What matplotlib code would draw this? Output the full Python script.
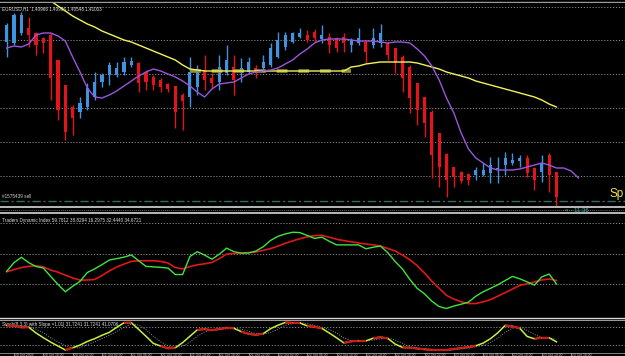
import matplotlib
matplotlib.use("Agg")
import matplotlib.pyplot as plt
import numpy as np

# ---------------- data ----------------
# EURUSD H1 candles (open, high, low, close)
opens = [1.4265,1.4264,1.4274,1.4279,1.4274,1.4269,1.4272,1.4247,1.4222,1.4200,
         1.4195,1.4200,1.4210,1.4225,1.4232,1.4232,1.4235,1.4242,1.4244,1.4235,
         1.4230,1.4227,1.4223,1.4221,1.4212,1.4210,1.4220,1.4237,1.4229,1.4225,
         1.4234,1.4240,1.4234,1.4235,1.4239,1.4239,1.4242,1.4250,1.4260,1.4265,
         1.4270,1.4272,1.4275,1.4268,1.4270,1.4269,1.4270,1.4262,1.4264,1.4265,
         1.4262,1.4264,1.4264,1.4259,1.4250,1.4240,1.4224,1.4210,1.4195,1.4174,
         1.4153,1.4140,1.4135,1.4133,1.4132,1.4132,1.4134,1.4138,1.4142,1.4144,
         1.4146,1.4149,1.4139,1.4135,1.4152,1.4135]
highs = [1.4284,1.4294,1.4295,1.4290,1.4275,1.4270,1.4274,1.4247,1.4222,1.4202,
         1.4210,1.4224,1.4235,1.4234,1.4245,1.4245,1.4250,1.4250,1.4245,1.4237,
         1.4232,1.4229,1.4224,1.4221,1.4214,1.4250,1.4242,1.4252,1.4234,1.4252,
         1.4262,1.4252,1.4249,1.4250,1.4242,1.4252,1.4264,1.4275,1.4275,1.4275,
         1.4279,1.4277,1.4278,1.4282,1.4274,1.4270,1.4274,1.4269,1.4279,1.4267,
         1.4279,1.4283,1.4265,1.4259,1.4252,1.4242,1.4224,1.4210,1.4197,1.4174,
         1.4154,1.4140,1.4136,1.4134,1.4140,1.4144,1.4150,1.4150,1.4155,1.4154,
         1.4152,1.4152,1.4140,1.4152,1.4154,1.4135]
lows = [1.4250,1.4262,1.4272,1.4260,1.4252,1.4254,1.4207,1.4187,1.4167,1.4172,
        1.4189,1.4197,1.4207,1.4220,1.4222,1.4230,1.4232,1.4240,1.4215,1.4217,
        1.4217,1.4215,1.4215,1.4179,1.4177,1.4200,1.4212,1.4217,1.4219,1.4217,
        1.4232,1.4212,1.4225,1.4234,1.4229,1.4235,1.4240,1.4249,1.4257,1.4264,
        1.4269,1.4265,1.4265,1.4264,1.4254,1.4255,1.4255,1.4255,1.4262,1.4244,
        1.4259,1.4260,1.4247,1.4234,1.4215,1.4194,1.4182,1.4170,1.4129,1.4120,
        1.4110,1.4120,1.4124,1.4122,1.4127,1.4131,1.4124,1.4124,1.4132,1.4142,
        1.4140,1.4130,1.4117,1.4125,1.4115,1.4100]
closes = [1.4282,1.4292,1.4292,1.4272,1.4262,1.4264,1.4229,1.4197,1.4175,1.4189,
          1.4204,1.4219,1.4225,1.4232,1.4242,1.4239,1.4245,1.4246,1.4224,1.4225,
          1.4222,1.4220,1.4218,1.4195,1.4206,1.4235,1.4237,1.4227,1.4224,1.4240,
          1.4247,1.4227,1.4239,1.4245,1.4234,1.4245,1.4259,1.4267,1.4272,1.4274,
          1.4274,1.4267,1.4269,1.4272,1.4262,1.4259,1.4264,1.4267,1.4269,1.4255,
          1.4269,1.4274,1.4252,1.4244,1.4229,1.4209,1.4197,1.4184,1.4152,1.4140,
          1.4127,1.4130,1.4126,1.4127,1.4137,1.4137,1.4142,1.4139,1.4149,1.4147,
          1.4149,1.4134,1.4127,1.4144,1.4132,1.4110]

# fast moving average (shifted forward by 3 bars)
ma_fast = [1.4259,1.4261,1.4260,1.4263,1.4272,1.4274,1.4274,1.4271,1.4266,1.4250,
           1.4235,1.4219,1.4210,1.4209,1.4212,1.4216,1.4221,1.4226,1.4231,1.4235,
           1.4238,1.4236,1.4233,1.4230,1.4226,1.4221,1.4215,1.4210,1.4218,1.4223,
           1.4224,1.4225,1.4229,1.4233,1.4235,1.4236,1.4237,1.4239,1.4243,1.4247,
           1.4253,1.4258,1.4264,1.4267,1.4268,1.4268,1.4268,1.4267,1.4266,1.4266,
           1.4266,1.4265,1.4264,1.4265,1.4265,1.4264,1.4258,1.4251,1.4241,1.4227,
           1.4209,1.4194,1.4174,1.4158,1.4149,1.4144,1.4139,1.4137,1.4137,1.4137,
           1.4138,1.4140,1.4142,1.4144,1.4142,1.4139,1.4139,1.4136,1.4129]
# slow moving average (starts at bar 5)
ma_slow_start = 5
ma_slow = [1.4309,1.4306,1.4301,1.4296,1.4291,1.4287,1.4283,1.4280,1.4276,1.4273,
           1.4270,1.4267,1.4265,1.4262,1.4259,1.4256,1.4253,1.4250,1.4247,1.4242,
           1.4238,1.4237,1.4236,1.4236,1.4236,1.4236,1.4236,1.4236,1.4236,1.4236,
           1.4236,1.4236,1.4236,1.4236,1.4236,1.4236,1.4236,1.4236,1.4236,1.4236,
           1.4236,1.4236,1.4240,1.4241,1.4243,1.4244,1.4245,1.4245,1.4245,1.4245,
           1.4245,1.4244,1.4242,1.4240,1.4238,1.4235,1.4233,1.4231,1.4229,1.4226,
           1.4224,1.4222,1.4220,1.4218,1.4216,1.4214,1.4212,1.4210,1.4207,1.4203,
           1.4200]
level_line_price = 1.4236
level_line_bars = (25, 47)
order_price = 1.4106
price_grid = [1.4300, 1.4267, 1.4233, 1.4199, 1.4165, 1.4131]

# Traders Dynamic Index
tdi_green = [39.7,44.8,47.9,44.8,42.5,41.6,36.7,32.0,27.7,30.9,
             33.8,39.0,41.1,43.6,46.3,47.1,48.0,49.3,45.9,42.6,
             42.3,42.0,41.6,37.8,37.8,48.4,51.2,49.2,46.8,49.7,
             53.3,51.2,50.4,50.4,51.6,54.1,57.8,60.2,61.6,62.6,
             62.4,60.7,59.0,59.7,57.3,55.2,55.2,55.2,55.2,52.9,
             53.8,54.5,50.6,45.4,41.0,34.9,29.7,26.5,22.2,19.0,
             17.9,19.3,20.4,21.6,25.1,27.7,29.7,31.8,34.3,36.7,
             35.3,33.5,31.6,36.4,38.1,32.3]
tdi_red = [39.4,40.7,41.9,42.6,42.9,42.3,40.4,39.2,37.4,35.8,
           34.5,34.6,34.9,37.2,39.9,42.2,43.9,45.5,45.9,45.9,
           45.9,45.5,44.6,41.9,41.1,42.5,43.5,44.1,44.9,47.1,
           49.8,50.1,50.3,50.7,51.0,52.0,53.0,54.5,56.1,57.5,
           58.8,59.9,60.6,60.8,59.7,58.5,57.7,57.0,56.3,55.7,
           55.2,54.5,53.1,51.6,49.2,46.5,43.0,38.7,33.9,29.7,
           25.6,23.4,21.8,20.8,20.8,21.8,23.1,25.1,27.2,29.3,
           31.4,32.4,33.5,34.6,35.2,34.3]
tdi_levels = [32, 50, 68]

# Stochastic
stoch_main = [86.7,86.0,80.0,80.7,61.0,45.0,30.0,16.7,3.3,11.0,
              20.0,32.3,41.7,53.3,63.3,80.0,95.7,96.0,73.3,50.0,
              25.7,16.7,9.0,11.0,28.3,50.0,71.7,74.0,70.7,74.3,
              79.0,76.7,65.7,58.0,54.7,58.7,75.7,87.3,96.7,95.7,
              95.0,85.0,81.7,76.7,61.0,44.7,27.3,32.7,34.3,34.3,
              43.3,46.7,42.3,23.3,12.0,11.0,8.3,5.7,3.3,3.3,
              3.3,6.7,10.0,13.3,17.7,26.7,41.7,61.7,86.7,83.3,
              76.7,49.3,41.3,45.0,45.0,31.0]
stoch_signal = [86,86,84,82,74,62,45,31,17,10,
                11,21,31,42,53,66,80,91,88,73,
                50,31,17,12,16,30,50,65,72,73,
                75,77,74,67,59,57,63,74,87,93,
                96,92,87,81,73,61,44,35,31,34,
                37,41,44,37,26,15,10,8,6,4,
                3,4,7,10,14,19,29,43,63,77,
                82,70,56,45,44,40]
stoch_levels = [20, 80]
stoch_flat_threshold = 8

time_labels = ["20 Oct 2009", "20 Oct 18:00", "20 Oct 22:00", "21 Oct 02:00", "21 Oct 06:00",
               "21 Oct 10:00", "21 Oct 14:00", "21 Oct 18:00", "21 Oct 22:00", "22 Oct 02:00",
               "22 Oct 06:00", "22 Oct 10:00", "22 Oct 14:00", "22 Oct 18:00", "22 Oct 22:00",
               "23 Oct 02:00", "23 Oct 06:00", "23 Oct 10:00", "23 Oct 14:00", "23 Oct 18:00"]
time_label_bars = list(range(1, 80, 4))

# ---------------- figure ----------------
W, H = 625, 356
fig = plt.figure(figsize=(W / 100, H / 100), dpi=100, facecolor="black")
plt.rcParams["font.family"] = ["Liberation Sans", "DejaVu Sans"]

# background canvas in pixel coordinates
bg = fig.add_axes([0, 0, 1, 1], zorder=0)
bg.set_xlim(0, W)
bg.set_ylim(H, 0)
bg.set_facecolor("black")
bg.axis("off")

# transparent overlay for texts on top of panels
ov = fig.add_axes([0, 0, 1, 1], zorder=10)
ov.set_xlim(0, W)
ov.set_ylim(H, 0)
ov.patch.set_alpha(0)
ov.axis("off")


def px_axes(top, bottom):
    return fig.add_axes([0, 1 - bottom / H, 1, (bottom - top) / H], zorder=2)


X0 = 6.7      # pixel of bar 0
DX = 7.33     # bar spacing in pixels
xlim = (-X0 / DX, (W - X0) / DX)

main = px_axes(3, 206)
tdi = px_axes(214, 317)
sto = px_axes(321, 352)
for a in (main, tdi, sto):
    a.set_facecolor("black")
    a.set_xlim(*xlim)
    a.set_xticks([])
    a.set_yticks([])
    for s in a.spines.values():
        s.set_visible(False)

grid_kw = dict(color="#8a8a8a", lw=0.7, linestyle=(0, (1.2, 1.8)), zorder=1)

# ----- main price panel -----
main.set_ylim(1.4101, 1.4304)
for g in price_grid:
    main.axhline(g, **grid_kw)

idx = np.arange(len(opens))
o = np.array(opens); h = np.array(highs); l = np.array(lows); c = np.array(closes)
bull = c >= o
col_bull, col_bear = "#3f93e0", "#e3141b"
colors = np.where(bull, col_bull, col_bear)
main.vlines(idx, l, h, colors=colors, lw=1.0, zorder=3)
body_lo = np.minimum(o, c)
body_h = np.maximum(np.abs(c - o), 0.00008)
main.bar(idx, body_h, bottom=body_lo, width=0.42, color=colors, zorder=3, linewidth=0)

# level line (olive dashes) under slow MA
lb = np.arange(level_line_bars[0], level_line_bars[1] + 1)
main.plot(lb, np.full(len(lb), level_line_price), color="#8f8f3a", lw=2.6,
          linestyle=(0, (3, 3)), zorder=3.5, solid_capstyle="butt")
main.plot(np.arange(ma_slow_start, ma_slow_start + len(ma_slow)), ma_slow,
          color="#f2f25a", lw=1.0, zorder=4)
main.plot(np.arange(len(ma_fast)), ma_fast, color="#9b55dc", lw=1.0, zorder=4)

# order line
main.axhline(order_price, color="#2f6b68", lw=1.0, linestyle=(0, (6, 2, 1.5, 2)), zorder=2)
main.text(0.004, order_price + 0.0002, "#1575439 sell", color="#d0d0d0", fontsize=3.3,
          transform=main.get_yaxis_transform(), va="bottom", ha="left")
main.text(0.003, 0.985, "EURUSD,H1  1.40966 1.40986 1.40548 1.41003", color="#e0e0e0",
          fontsize=3.3, transform=main.transAxes, va="top", ha="left")

# ----- TDI panel -----
tdi.set_ylim(12.9, 73.3)
for g in tdi_levels:
    tdi.axhline(g, **grid_kw)
tdi.plot(np.arange(len(tdi_red)), tdi_red, color="#e01818", lw=1.2, zorder=3)
tdi.plot(np.arange(len(tdi_green)), tdi_green, color="#3fe43f", lw=1.0, zorder=4)
tdi.text(0.003, 0.96, "Traders Dynamic Index 59.7812 38.8294 16.2975 32.4440 34.6721",
         color="#e0e0e0", fontsize=3.3, transform=tdi.transAxes, va="top", ha="left")

# ----- Stochastic panel -----
sto.set_ylim(-3.5, 101.7)
for g in stoch_levels:
    sto.axhline(g, **grid_kw)
sidx = np.arange(len(stoch_signal))
sto.plot(sidx, stoch_signal, color="#8c8c9a", lw=0.7, linestyle=(0, (1, 1.5)), zorder=3)
sm = np.array(stoch_main)
sto.plot(np.arange(len(sm)), sm, color="#c4f03c", lw=1.1, zorder=4)
for i in range(len(sm) - 1):
    if abs(sm[i + 1] - sm[i]) < stoch_flat_threshold:
        sto.plot([i, i + 1], [sm[i], sm[i + 1]], color="#cc1a1a", lw=1.6, zorder=5,
                 solid_capstyle="butt")
sto.text(0.003, 0.97, "Stoch(8,3,3) with Slope =1.01| 31.7241 31.7241 41.0706",
         color="#e0e0e0", fontsize=3.3, transform=sto.transAxes, va="top", ha="left")

# ----- separators and decorations (pixel coords) -----
bg.plot([0, W], [1.5, 1.5], color="#9a9a9a", lw=1.0)
bg.plot([0, W], [206.8, 206.8], color="#d8d8d8", lw=1.2)
bg.plot([0, W], [209.6, 209.6], color="#8a8a8a", lw=0.6, linestyle=(0, (1, 1.5)))
bg.plot([0, W], [212.8, 212.8], color="#d8d8d8", lw=1.2)
bg.plot([0, W], [318.2, 318.2], color="#d8d8d8", lw=1.0)
bg.plot([0, W], [320.0, 320.0], color="#9a9a9a", lw=0.8)
bg.plot([0, W], [352.8, 352.8], color="#9a9a9a", lw=0.6)
ov.text(609, 197, "Sp", color="#f0e24a", fontsize=8.5, va="baseline", ha="left")
ov.text(565, 211.6, "<-- 11:36", color="#3fb0b0", fontsize=4.3, va="baseline", ha="left")
for b, lab in zip(time_label_bars, time_labels):
    xp = X0 + DX * b
    ov.plot([xp, xp], [352.8, 354.5], color="#bbbbbb", lw=0.5)
    ov.text(xp + 1, 355.8, lab, color="#cfcfcf", fontsize=2.4, va="baseline", ha="left")

fig.savefig("out.png", dpi=100, facecolor="black")
